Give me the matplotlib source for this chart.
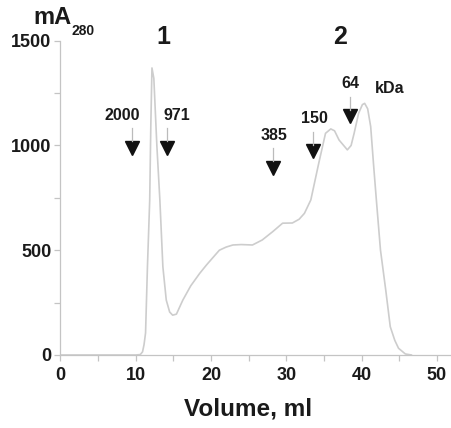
import matplotlib
matplotlib.use('Agg')
import matplotlib.pyplot as plt
from matplotlib.ticker import MultipleLocator

# chromatogram (volume in ml, absorbance in mA280)
volume = [0, 5, 10, 10.6, 10.9, 11.1, 11.3, 11.55, 11.85, 12.0, 12.15, 12.4,
          12.8, 13.2, 13.6, 14.05, 14.5, 14.9, 15.4, 16.25, 17.3, 18.5, 19.4,
          20.2, 21.1, 22.0, 22.9, 24.0, 25.5, 26.8, 28.2, 29.5, 30.8, 31.7,
          32.4, 33.25, 34.3, 35.2, 35.9, 36.4, 37.0, 38.1, 38.6, 39.0, 39.6,
          40.1, 40.4, 40.8, 41.2, 41.6, 42.0, 42.5, 43.2, 43.8, 44.4, 44.9,
          45.8, 46.6]
absorb = [0, 0, 0, 2, 15, 50, 105, 421, 738, 1100, 1370, 1320,
          1000, 740, 421, 262, 205, 190, 195, 262, 330, 390, 430,
          463, 500, 515, 525, 527, 525, 549, 589, 629, 630, 648,
          676, 740, 915, 1058, 1079, 1070, 1026, 979, 1000, 1058, 1154,
          1195, 1201, 1175, 1090, 900, 720, 501, 310, 135, 70, 32,
          5, 0]

# molecular weight markers (kDa)
marker_vol = [9.55, 14.16, 28.16, 33.6, 38.5]
marker_lbl = ['2000', '971', '385', '150', '64']

peak_lbl = ['1', '2']
peak_vol = [13.6, 37.1]

# layout for the marker arrows
marker_y = [990, 990, 894, 974, 1141]
label_dx = [-7, 7, 1, 1, 0]

fig = plt.figure(figsize=(4.52, 4.28), dpi=100)
ax = fig.add_axes([0.1338, 0.1706, 0.8662, 0.7343])

ax.plot(volume, absorb, color='#cdcdcd', lw=1.2, zorder=2)

ax.set_xlim(0, 52)
ax.set_ylim(0, 1500)
ax.xaxis.set_major_locator(MultipleLocator(10))
ax.xaxis.set_minor_locator(MultipleLocator(5))
ax.yaxis.set_major_locator(MultipleLocator(500))
ax.yaxis.set_minor_locator(MultipleLocator(250))
ax.set_xticks([0, 10, 20, 30, 40, 50])

for s in ['top', 'right']:
    ax.spines[s].set_visible(False)
for s in ['left', 'bottom']:
    ax.spines[s].set_color('#c4c4c4')
    ax.spines[s].set_linewidth(0.9)

ax.tick_params(which='both', direction='out', color='#c4c4c4', width=0.9)
ax.tick_params(which='major', length=4.5)
ax.tick_params(which='minor', length=4)
ax.tick_params(axis='x', which='major', pad=4)
ax.tick_params(axis='y', which='major', pad=2)
for t in ax.get_xticklabels() + ax.get_yticklabels():
    t.set_fontfamily('Liberation Sans')
    t.set_fontweight('bold')
    t.set_fontsize(13)
    t.set_color('#1a1a1a')

ax.set_xlabel('Volume, ml', fontfamily='Liberation Sans', fontweight='bold',
              fontsize=17.5, color='#1a1a1a', labelpad=9)
ax.xaxis.set_label_coords(0.478, -0.135)

# markers
for v, y, lbl, dx in zip(marker_vol, marker_y, marker_lbl, label_dx):
    ax.plot(v, y, marker='v', ms=10, color='#111111', zorder=3)
    ax.plot([v, v], [y + 30, y + 92], color='#bbbbbb', lw=0.9, zorder=3)
    ax.annotate(lbl, (v, y), xytext=(dx, 23), textcoords='offset points',
                ha='center', va='center', fontfamily='Liberation Sans',
                fontweight='bold', fontsize=11.5, color='#1a1a1a')
ax.annotate('kDa', (marker_vol[-1], marker_y[-1]), xytext=(28, 20),
            textcoords='offset points', ha='center', va='center',
            fontfamily='Liberation Sans', fontweight='bold', fontsize=11.5,
            color='#1a1a1a')

for lbl, v in zip(peak_lbl, peak_vol):
    ax.text(v, 1519, lbl, ha='center', va='center', fontfamily='Liberation Sans',
            fontweight='bold', fontsize=18, color='#1a1a1a', clip_on=False)

fig.text(52 / 452, 1 - 17 / 428, 'mA', ha='center', va='center',
         fontfamily='Liberation Sans', fontweight='bold', fontsize=17, color='#1a1a1a')
fig.text(83 / 452, 1 - 31 / 428, '280', ha='center', va='center',
         fontfamily='Liberation Sans', fontweight='bold', fontsize=10, color='#1a1a1a')

fig.savefig('out.png', dpi=100)
